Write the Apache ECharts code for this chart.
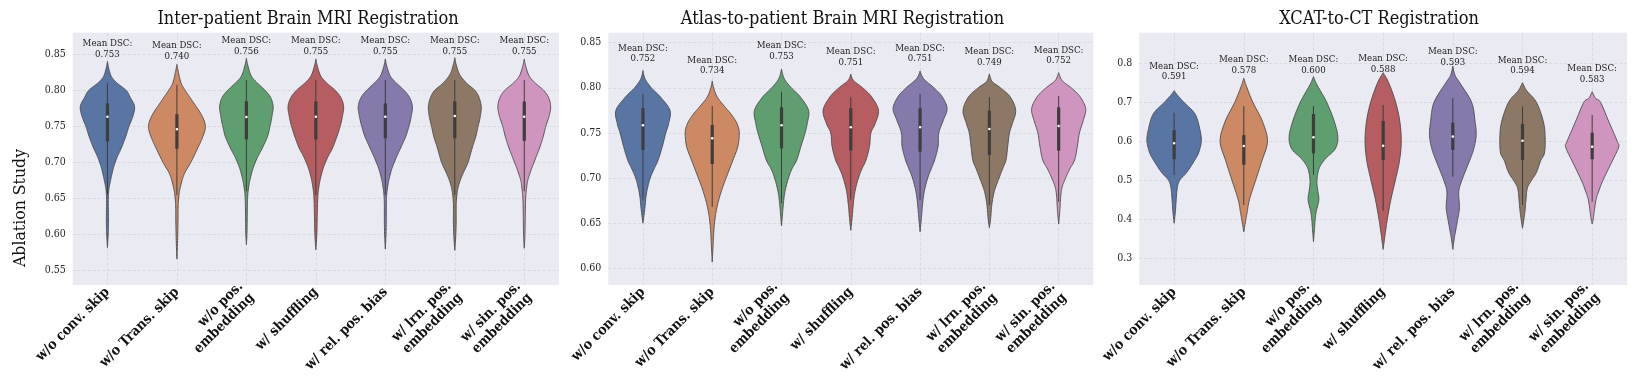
<!DOCTYPE html>
<html><head><meta charset="utf-8">
<script src="https://cdn.jsdelivr.net/npm/echarts@6/dist/echarts.min.js"></script>
<style>html,body{margin:0;padding:0;background:#fff}#c{width:1642px;height:378px}</style>
</head><body><div id="c"></div>
<script>
// ---------------- data ----------------
const categories = ['w/o conv. skip', 'w/o Trans. skip', 'w/o pos.\nembedding', 'w/ shuffling',
  'w/ rel. pos. bias', 'w/ lrn. pos.\nembedding', 'w/ sin. pos.\nembedding'];
const panelTitles = ['Inter-patient Brain MRI Registration', 'Atlas-to-patient Brain MRI Registration', 'XCAT-to-CT Registration'];
const yAxisTitle = 'Ablation Study';

const yTicks1 = [0.55, 0.60, 0.65, 0.70, 0.75, 0.80, 0.85];
const yTicks2 = [0.60, 0.65, 0.70, 0.75, 0.80, 0.85];
const yTicks3 = [0.3, 0.4, 0.5, 0.6, 0.7, 0.8];
const yRange1 = [0.530, 0.880];
const yRange2 = [0.5815, 0.861];
const yRange3 = [0.2315, 0.8785];

const meanDSC1 = ['0.753', '0.740', '0.756', '0.755', '0.755', '0.755', '0.755'];
const meanDSC2 = ['0.752', '0.734', '0.753', '0.751', '0.751', '0.749', '0.752'];
const meanDSC3 = ['0.591', '0.578', '0.600', '0.588', '0.593', '0.594', '0.583'];

// box stats: [lower whisker, q1, median, q3, upper whisker]
const box1 = [[0.655, 0.729, 0.7635, 0.782, 0.810], [0.655, 0.719, 0.746, 0.767, 0.8075],
  [0.660, 0.732, 0.763, 0.785, 0.8145], [0.655, 0.732, 0.7635, 0.7845, 0.8145],
  [0.655, 0.7335, 0.7635, 0.782, 0.8145], [0.655, 0.7335, 0.7645, 0.7845, 0.8145],
  [0.660, 0.730, 0.7635, 0.7845, 0.8145]];
const box2 = [[0.676, 0.731, 0.7584, 0.7773, 0.7931], [0.668, 0.7155, 0.744, 0.7588, 0.7798],
  [0.672, 0.7329, 0.7584, 0.7784, 0.7957], [0.676, 0.7303, 0.7562, 0.7773, 0.7895],
  [0.6756, 0.7292, 0.7562, 0.7773, 0.7931], [0.670, 0.7255, 0.7543, 0.7746, 0.7895],
  [0.6737, 0.7303, 0.7577, 0.7784, 0.7909]];
const box3 = [[0.5136, 0.554, 0.595, 0.629, 0.6734], [0.4367, 0.540, 0.588, 0.616, 0.6905],
  [0.5136, 0.5692, 0.6103, 0.670, 0.6905], [0.422, 0.552, 0.5887, 0.652, 0.693],
  [0.5092, 0.5777, 0.612, 0.6477, 0.7103], [0.4367, 0.552, 0.6015, 0.6444, 0.6887],
  [0.4451, 0.554, 0.5862, 0.622, 0.6674]];

// violin outlines: [value, half-width as a fraction of category spacing], top tip to bottom tip
const violin1 = [
  [[0.840,0],[0.830,0.02],[0.819,0.058],[0.810,0.14],[0.80,0.27],[0.79,0.33],[0.778,0.39],[0.765,0.37],[0.75,0.31],[0.735,0.26],[0.72,0.2],[0.705,0.13],[0.69,0.08],[0.675,0.045],[0.662,0.02],[0.645,0.012],[0.625,0.015],[0.61,0.014],[0.595,0.008],[0.582,0]],
  [[0.836,0],[0.826,0.02],[0.81,0.06],[0.80,0.12],[0.79,0.19],[0.78,0.26],[0.765,0.36],[0.75,0.41],[0.735,0.37],[0.72,0.3],[0.70,0.2],[0.685,0.11],[0.67,0.06],[0.655,0.03],[0.64,0.018],[0.62,0.016],[0.60,0.012],[0.58,0.006],[0.566,0]],
  [[0.8445,0],[0.835,0.02],[0.82,0.07],[0.81,0.16],[0.80,0.27],[0.79,0.35],[0.778,0.385],[0.765,0.37],[0.75,0.34],[0.735,0.3],[0.72,0.23],[0.705,0.15],[0.69,0.09],[0.675,0.05],[0.66,0.025],[0.645,0.015],[0.62,0.012],[0.60,0.008],[0.586,0]],
  [[0.8435,0],[0.834,0.02],[0.82,0.07],[0.81,0.16],[0.80,0.28],[0.79,0.36],[0.778,0.40],[0.765,0.385],[0.75,0.35],[0.735,0.3],[0.72,0.24],[0.705,0.16],[0.69,0.1],[0.675,0.06],[0.66,0.035],[0.645,0.025],[0.625,0.02],[0.60,0.014],[0.579,0]],
  [[0.8435,0],[0.834,0.02],[0.82,0.07],[0.81,0.16],[0.80,0.27],[0.79,0.35],[0.778,0.39],[0.765,0.375],[0.75,0.34],[0.735,0.29],[0.72,0.22],[0.705,0.15],[0.69,0.09],[0.675,0.05],[0.66,0.025],[0.645,0.015],[0.62,0.014],[0.60,0.01],[0.58,0]],
  [[0.8453,0],[0.836,0.02],[0.822,0.07],[0.81,0.17],[0.80,0.29],[0.79,0.35],[0.778,0.38],[0.765,0.37],[0.75,0.335],[0.735,0.3],[0.72,0.25],[0.70,0.19],[0.685,0.12],[0.67,0.06],[0.655,0.03],[0.64,0.02],[0.62,0.02],[0.60,0.015],[0.578,0]],
  [[0.8435,0],[0.834,0.02],[0.82,0.07],[0.81,0.16],[0.80,0.28],[0.79,0.35],[0.778,0.38],[0.765,0.36],[0.75,0.31],[0.735,0.27],[0.72,0.22],[0.705,0.16],[0.69,0.1],[0.675,0.05],[0.665,0.035],[0.65,0.02],[0.625,0.014],[0.60,0.01],[0.581,0]]
];
const violin2 = [
  [[0.819,0],[0.81,0.03],[0.80,0.12],[0.79,0.25],[0.775,0.39],[0.76,0.37],[0.75,0.33],[0.735,0.28],[0.72,0.22],[0.71,0.16],[0.70,0.105],[0.69,0.07],[0.68,0.045],[0.665,0.025],[0.65,0]],
  [[0.8075,0],[0.80,0.02],[0.79,0.07],[0.78,0.17],[0.77,0.28],[0.76,0.36],[0.75,0.39],[0.735,0.37],[0.72,0.3],[0.70,0.2],[0.685,0.13],[0.67,0.075],[0.655,0.04],[0.64,0.022],[0.625,0.012],[0.607,0]],
  [[0.8205,0],[0.81,0.04],[0.80,0.14],[0.79,0.27],[0.775,0.39],[0.76,0.37],[0.75,0.34],[0.735,0.28],[0.72,0.22],[0.71,0.15],[0.70,0.1],[0.685,0.05],[0.67,0.025],[0.647,0]],
  [[0.815,0],[0.808,0.04],[0.80,0.17],[0.79,0.3],[0.775,0.40],[0.76,0.35],[0.75,0.29],[0.735,0.27],[0.72,0.22],[0.71,0.16],[0.70,0.11],[0.685,0.06],[0.67,0.035],[0.655,0.018],[0.642,0]],
  [[0.8186,0],[0.81,0.05],[0.80,0.2],[0.79,0.32],[0.777,0.39],[0.765,0.34],[0.75,0.27],[0.735,0.26],[0.72,0.21],[0.71,0.16],[0.70,0.11],[0.685,0.06],[0.67,0.035],[0.655,0.018],[0.6405,0]],
  [[0.8153,0],[0.807,0.04],[0.80,0.16],[0.79,0.3],[0.775,0.38],[0.76,0.33],[0.75,0.29],[0.735,0.265],[0.72,0.24],[0.71,0.19],[0.70,0.14],[0.685,0.07],[0.67,0.035],[0.655,0.018],[0.645,0]],
  [[0.8167,0],[0.808,0.05],[0.80,0.18],[0.79,0.31],[0.777,0.39],[0.765,0.36],[0.75,0.3],[0.735,0.27],[0.72,0.23],[0.71,0.16],[0.70,0.1],[0.69,0.05],[0.68,0.03],[0.665,0.018],[0.649,0]]
];
const violin3 = [
  [[0.7298,0],[0.72,0.04],[0.70,0.14],[0.67,0.3],[0.63,0.37],[0.60,0.39],[0.57,0.35],[0.55,0.29],[0.52,0.18],[0.50,0.08],[0.48,0.045],[0.45,0.03],[0.42,0.018],[0.39,0]],
  [[0.7615,0],[0.74,0.04],[0.70,0.13],[0.65,0.27],[0.60,0.34],[0.55,0.26],[0.50,0.17],[0.45,0.08],[0.42,0.05],[0.40,0.03],[0.368,0]],
  [[0.7657,0],[0.745,0.05],[0.70,0.19],[0.65,0.3],[0.61,0.35],[0.58,0.31],[0.555,0.17],[0.53,0.08],[0.50,0.05],[0.475,0.06],[0.45,0.077],[0.42,0.04],[0.40,0.025],[0.37,0.012],[0.3426,0]],
  [[0.776,0],[0.75,0.08],[0.70,0.18],[0.65,0.24],[0.60,0.26],[0.55,0.235],[0.50,0.175],[0.45,0.11],[0.40,0.06],[0.37,0.035],[0.35,0.02],[0.323,0]],
  [[0.793,0],[0.77,0.03],[0.75,0.1],[0.70,0.27],[0.65,0.32],[0.615,0.335],[0.58,0.3],[0.55,0.24],[0.50,0.13],[0.47,0.085],[0.43,0.095],[0.40,0.07],[0.37,0.04],[0.35,0.02],[0.323,0]],
  [[0.7503,0],[0.73,0.06],[0.70,0.2],[0.65,0.3],[0.61,0.325],[0.57,0.315],[0.55,0.26],[0.52,0.2],[0.50,0.13],[0.48,0.07],[0.45,0.05],[0.42,0.035],[0.40,0.02],[0.377,0]],
  [[0.7272,0],[0.71,0.05],[0.70,0.12],[0.65,0.24],[0.60,0.36],[0.585,0.38],[0.55,0.29],[0.50,0.155],[0.47,0.09],[0.45,0.055],[0.42,0.03],[0.40,0.015],[0.388,0]]
];

// ---------------- styling / layout ----------------
const palette = ['#5975a4', '#cc8963', '#5f9e6e', '#b55d60', '#857aab', '#8d7866', '#d095bf'];
const FONT = "'DejaVu Serif Condensed', 'Liberation Serif', serif";
const panels = [
  { title: panelTitles[0], ticks: yTicks1, range: yRange1, dec: 2, means: meanDSC1, box: box1, shapes: violin1,
    grid: { left: 72.7, top: 32.7, width: 486.3, height: 252.3 }, titleX: 303, labelOff: 0.040 },
  { title: panelTitles[1], ticks: yTicks2, range: yRange2, dec: 2, means: meanDSC2, box: box2, shapes: violin2,
    grid: { left: 608.3, top: 32.7, width: 485, height: 252.3 }, titleX: 837.5, labelOff: 0.039 },
  { title: panelTitles[2], ticks: yTicks3, range: yRange3, dec: 1, means: meanDSC3, box: box3, shapes: violin3,
    grid: { left: 1139.3, top: 32.7, width: 487.7, height: 252.3 }, titleX: 1374, labelOff: 0.092 }
];
const xIdx = categories.map((c, i) => i);

function splinePts(pts) { // pts: [w, y] in px; sample a Catmull-Rom curve through the outline knots
  const out = [];
  const n = pts.length;
  for (let j = 0; j < n - 1; j++) {
    const p0 = pts[j - 1] || pts[j], p1 = pts[j], p2 = pts[j + 1], p3 = pts[j + 2] || pts[j + 1];
    const c1 = [Math.max(0, p1[0] + (p2[0] - p0[0]) / 6), p1[1] + (p2[1] - p0[1]) / 6];
    const c2 = [Math.max(0, p2[0] - (p3[0] - p1[0]) / 6), p2[1] - (p3[1] - p1[1]) / 6];
    const N = 10;
    for (let s = (j === 0 ? 0 : 1); s <= N; s++) {
      const t = s / N, u = 1 - t;
      const a = u * u * u, b = 3 * u * u * t, c = 3 * u * t * t, d = t * t * t;
      out.push([Math.max(0, a * p1[0] + b * c1[0] + c * c2[0] + d * p2[0]),
                a * p1[1] + b * c1[1] + c * c2[1] + d * p2[1]]);
    }
  }
  return out;
}

const chart = echarts.init(document.getElementById('c'), null, { renderer: 'canvas' });
const option = {
  backgroundColor: '#ffffff',
  animation: false,
  title: panels.map(p => ({
    text: p.title, left: p.titleX, top: 5, textAlign: 'center',
    textStyle: { fontFamily: FONT, fontSize: 18, fontWeight: 'normal', color: '#111' }
  })),
  graphic: [{
    type: 'text', x: 20, y: 208, rotation: Math.PI / 2,
    style: { text: yAxisTitle, font: "17.5px " + FONT, fill: '#111', align: 'center', verticalAlign: 'middle' }
  }],
  grid: panels.map(p => Object.assign({ show: true, backgroundColor: '#EAEAF2', borderWidth: 0 }, p.grid)),
  xAxis: panels.map((p, gi) => ({
    type: 'value', gridIndex: gi, min: -0.5, max: 6.5,
    axisLine: { show: false },
    axisTick: { show: false, customValues: xIdx },
    splitLine: { show: true, lineStyle: { color: '#d4d4dc', type: [3, 2], width: 0.8 } },
    axisLabel: {
      customValues: xIdx, rotate: 45, margin: 5,
      formatter: v => categories[Math.round(v)],
      fontFamily: FONT, fontSize: 14, fontWeight: 'bold', color: '#111', lineHeight: 16
    }
  })),
  yAxis: panels.map((p, gi) => ({
    type: 'value', gridIndex: gi, min: p.range[0], max: p.range[1],
    axisLine: { show: false },
    axisTick: { show: false, customValues: p.ticks },
    splitLine: { show: true, lineStyle: { color: '#d4d4dc', type: [3, 2], width: 0.8 } },
    axisLabel: {
      customValues: p.ticks, margin: 7, formatter: v => v.toFixed(p.dec),
      fontFamily: FONT, fontSize: 10.5, color: '#262626'
    }
  })),
  series: panels.map((p, gi) => ({
    type: 'custom', xAxisIndex: gi, yAxisIndex: gi,
    data: xIdx.map(i => [i]),
    renderItem: function (params, api) {
      const i = params.dataIndex;
      const band = api.size([1, 0])[0];
      const cx = api.coord([i, 0])[0];
      const knots = p.shapes[i].map(k => [k[1] * band, api.coord([i, k[0]])[1]]);
      const right = splinePts(knots);
      const poly = right.map(q => [cx + q[0], q[1]]);
      for (let k = right.length - 1; k >= 0; k--) poly.push([cx - right[k][0], right[k][1]]);
      const b = p.box[i];
      const yLo = api.coord([i, b[0]])[1], yQ1 = api.coord([i, b[1]])[1], yMed = api.coord([i, b[2]])[1],
        yQ3 = api.coord([i, b[3]])[1], yHi = api.coord([i, b[4]])[1];
      const yNum = api.coord([i, b[4] + p.labelOff])[1];
      return {
        type: 'group', children: [
          { type: 'polygon', shape: { points: poly },
            style: { fill: palette[i], stroke: '#4a4a4a', lineWidth: 0.9 } },
          { type: 'line', shape: { x1: cx, y1: yLo, x2: cx, y2: yHi },
            style: { stroke: '#3d3d3d', lineWidth: 1 } },
          { type: 'rect', shape: { x: cx - 1.6, y: yQ3, width: 3.2, height: yQ1 - yQ3 },
            style: { fill: '#3d3d3d' } },
          { type: 'circle', shape: { cx: cx, cy: yMed, r: 1.3 }, style: { fill: '#ffffff' } },
          { type: 'text', x: cx, y: yNum - 10.5,
            style: { text: 'Mean DSC:', font: "9.6px " + FONT, fill: '#222', align: 'center', verticalAlign: 'middle' } },
          { type: 'text', x: cx, y: yNum,
            style: { text: p.means[i], font: "9.6px " + FONT, fill: '#222', align: 'center', verticalAlign: 'middle' } }
        ]
      };
    }
  }))
};
chart.setOption(option);
</script>
</body></html>
